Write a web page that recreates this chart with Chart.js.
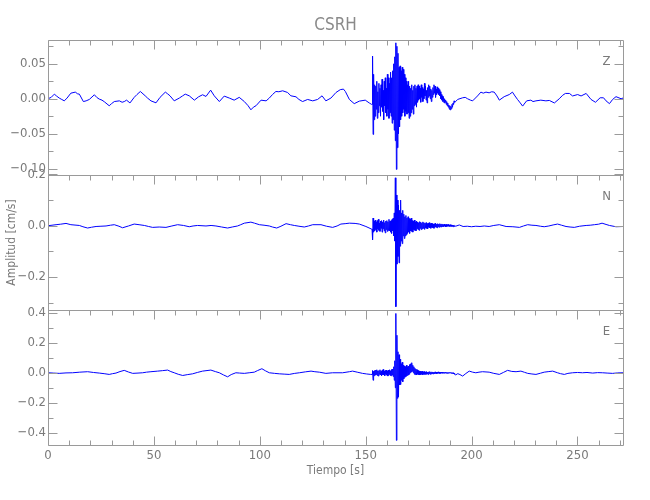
<!DOCTYPE html>
<html><head><meta charset="utf-8">
<script src="https://cdn.jsdelivr.net/npm/chart.js@4.4.1/dist/chart.umd.min.js"></script>
<style>
html,body{margin:0;padding:0;background:#fff;}
#wrap{position:relative;width:650px;height:500px;}
#wrap canvas{position:absolute;left:0;top:0;}
</style></head><body>
<div id="wrap">
<canvas id="cZ" width="650" height="500"></canvas>
<canvas id="cN" width="650" height="500"></canvas>
<canvas id="cE" width="650" height="500"></canvas>
</div>
<script>
// ---------------- DATA ----------------
const stationName = 'CSRH';
const componentLabels = ['Z', 'N', 'E'];
const xTitle = 'Tiempo [s]';
const yTitle = 'Amplitud [cm/s]';
const xMax = 271.5;
const xTicks = [0, 50, 100, 150, 200, 250];
const xMinorTicks = [10,20,30,40,60,70,80,90,110,120,130,140,160,170,180,190,210,220,230,240,260,270];

const zTicks = [0.05, 0.00, -0.05, -0.10];
const zTickLabels = ['0.05', '0.00', '\u22120.05', '\u22120.10'];
const zMinorTicks = [0.075, 0.025, -0.025, -0.075];
const nTicks = [0.2, 0.0, -0.2];
const nTickLabels = ['0.2', '0.0', '\u22120.2'];
const nMinorTicks = [0.1, -0.1, -0.3];
const eTicks = [0.4, 0.2, 0.0, -0.2, -0.4];
const eTickLabels = ['0.4', '0.2', '0.0', '\u22120.2', '\u22120.4'];
const eMinorTicks = [0.3, 0.1, -0.1, -0.3];

// strong-motion section: samples every burstStep seconds from burstStart
const burstStart = 153;
const burstStep = 0.25;

// ---- Z component ----
const zPreT = [0,1.5,3,4,5.3,6.5,7.7,9,10.8,12.9,14,14.8,16.7,18,19.5,21.9,23,24.2,25.5,26.6,28.9,30,31.3,33.7,35,36,37.1,38.7,40.7,42,43.6,45.9,47,48.6,51,52.9,55.4,56.5,57.6,59.6,62,63.5,64.8,66.7,69.1,71.1,73,74.6,76.8,78.5,80.9,83.2,85.6,87.9,90.3,92.7,94.5,95.8,97,98.2,100.6,103,104.5,106,107.6,109,110.8,113.1,114.7,117.1,118.5,120.2,122.6,125,127.3,129.4,131.2,133.6,136,138,139.5,140.4,142.3,144.6,147,149.8,151.7,152.75];
const zPreV = [0,0.002,0.0066,0.004,0.001,-0.001,-0.003,0.001,0.008,0.0095,0.007,0.0066,-0.004,-0.003,-0.001,0.0057,0.002,-0.0005,-0.002,-0.0043,-0.010,-0.007,-0.004,-0.003,-0.005,-0.004,-0.002,-0.006,0.002,0.006,0.0104,0.0042,0.001,-0.003,-0.0058,0.002,0.0095,0.007,0.0042,-0.003,0.001,0.004,0.0066,0.0042,-0.002,0.0028,0.0057,0.0033,0.0123,0.0042,-0.004,0.0038,0.001,-0.002,0.002,-0.004,-0.010,-0.0158,-0.012,-0.010,-0.002,-0.003,0.001,0.006,0.0104,0.010,0.0114,0.009,0.0042,0.0028,-0.001,-0.004,-0.001,-0.003,-0.001,0.0042,-0.003,0.001,0.009,0.013,0.0138,0.0104,-0.001,-0.007,-0.0034,-0.002,-0.006,-0.008];
const zBurst = [
 -0.008, 0.061, -0.051, 0.035,
 -0.030, 0.020, -0.025, 0.018,
 -0.015, 0.025, -0.028, 0.010,
 -0.020, 0.022, -0.010, 0.015,
 -0.025, 0.020, -0.012, 0.028,
 -0.018, 0.012, -0.030, 0.025,
 -0.010, 0.030, -0.020, 0.015,
 -0.025, 0.035, -0.015, 0.030,
 -0.028, 0.022, -0.020, 0.038,
 -0.025, 0.030, -0.035, 0.040,
 -0.030, 0.050, -0.045, 0.060,
 -0.060, 0.080, -0.101, 0.075,
 -0.070, 0.065, -0.050, 0.045,
 -0.040, 0.047, -0.030, 0.040,
 -0.025, 0.045, -0.020, 0.042,
 -0.015, 0.035, -0.025, 0.030,
 -0.018, 0.025, -0.022, 0.020,
 -0.020, 0.025, -0.028, 0.018,
 -0.025, 0.015, -0.020, 0.020,
 -0.015, 0.012, -0.022, 0.018,
 -0.010, 0.020, -0.008, 0.015,
 -0.012, 0.018, -0.005, 0.020,
 -0.002, 0.018, 0.000, 0.015,
 -0.005, 0.020, 0.002, 0.016,
 -0.004, 0.014, 0.000, 0.022,
 0.004, 0.018, -0.002, 0.012,
 -0.006, 0.016, 0.002, 0.020,
 0.004, 0.018, 0.000, 0.014,
 -0.004, 0.012, 0.002, 0.016,
 0.006, 0.020, 0.008, 0.018,
 0.002, 0.014, 0.006, 0.017,
 0.008, 0.015, 0.006, 0.013,
 0.004, 0.010, 0.000, 0.006,
 -0.002, 0.004, -0.004, 0.002,
 -0.006, 0.000, -0.005, -0.002,
 -0.008, -0.004, -0.010, -0.006,
 -0.012, -0.009, -0.015, -0.010,
 -0.016, -0.011, -0.014, -0.008,
 -0.012, -0.006, -0.008, -0.003,
 -0.005];
const zPostT = [192.5,193.4,195.8,197,198.1,199.5,200.5,202.8,204.4,205.5,206.8,208.3,209.5,210.7,212,213.1,215.4,217.8,219.3,220.5,221.7,223,224.1,226,228,229,230.4,232.7,235.1,236.7,239.1,241.4,243,244.3,246.2,247.7,250.1,251.7,254.1,256.4,258.5,260.7,262.3,263.5,265.1,266.6,268.2,270.6,271.5];
const zPostV = [-0.004,-0.001,0.0014,0.002,0,-0.002,-0.003,0.004,0.0095,0.008,0.0095,0.0085,0.010,0.0095,0.004,-0.002,0.003,0.006,0.0095,0.004,-0.001,-0.006,-0.0105,-0.003,-0.002,-0.004,-0.003,-0.002,-0.003,-0.0024,-0.006,0,0.005,0.0076,0.0076,0.004,0.006,0.004,0.0076,-0.001,-0.005,0.0014,0.0014,-0.003,-0.007,-0.001,0.003,0,0.001];

// ---- N component ----
const nPreT = [0,3.8,6,8.5,10.8,14.8,16.5,18.7,20.5,22.7,25,27.4,29.5,31.3,33.5,35.2,38,40.7,43,45.5,47.5,49.4,52.5,55.7,58.5,61.2,64,66.7,68.5,70.6,74.6,77,79.3,82,84.8,87,89.5,91,92.7,95.8,97.5,99.8,102,104.5,106,108,110,112.4,114.5,116.3,118.5,121,123,125,128.9,131.5,134.4,136.5,138.3,140.3,142.3,145,147,150.1,152.75];
const nPreV = [0,0.004,0.006,0.009,0.004,0.001,-0.004,-0.009,-0.006,-0.003,-0.002,-0.001,0.002,0.004,-0.002,-0.008,-0.001,0.0065,0.004,0.001,-0.003,-0.0065,-0.005,-0.0065,-0.001,0.004,0.001,-0.004,-0.001,0.001,-0.001,0.001,-0.001,-0.005,-0.009,-0.005,-0.001,0.004,0.010,0.014,0.010,0.004,0.002,-0.001,-0.005,-0.009,-0.002,0.008,0.004,0.001,-0.002,-0.005,-0.001,0.004,0.004,-0.002,-0.0065,-0.001,0.0065,0.008,0.010,0.009,0.0065,-0.003,-0.013];
const nBurst = [
 -0.013, -0.055, 0.030, -0.025,
 0.018, -0.020, 0.022, -0.015,
 0.015, -0.025, 0.020, -0.012,
 0.025, -0.018, 0.010, -0.022,
 0.018, -0.010, 0.020, -0.025,
 0.015, -0.012, 0.022, -0.020,
 0.012, -0.028, 0.018, -0.015,
 0.020, -0.022, 0.015, -0.018,
 0.025, -0.020, 0.018, -0.025,
 0.020, -0.030, 0.025, -0.020,
 0.030, -0.040, 0.050, -0.060,
 0.187, -0.316, 0.120, -0.150,
 0.100, -0.120, 0.080, -0.145,
 0.060, -0.080, 0.100, -0.060,
 0.050, -0.070, 0.060, -0.040,
 0.045, -0.050, 0.035, -0.040,
 0.040, -0.035, 0.030, -0.030,
 0.035, -0.025, 0.028, -0.030,
 0.025, -0.020, 0.030, -0.022,
 0.020, -0.025, 0.018, -0.015,
 0.022, -0.018, 0.015, -0.020,
 0.018, -0.012, 0.015, -0.015,
 0.012, -0.018, 0.016, -0.010,
 0.014, -0.015, 0.010, -0.012,
 0.015, -0.010, 0.012, -0.014,
 0.010, -0.008, 0.012, -0.010,
 0.008, -0.012, 0.010, -0.006,
 0.012, -0.008, 0.008, -0.010,
 0.010, -0.006, 0.008, -0.008,
 0.006, -0.010, 0.008, -0.005,
 0.010, -0.006, 0.006, -0.008,
 0.008, -0.004, 0.006, -0.006,
 0.008, -0.004, 0.006, -0.005,
 0.007, -0.003, 0.005, -0.004,
 0.006, -0.002, 0.004, -0.004,
 0.005, -0.003, 0.004, -0.002,
 0.005, -0.002, 0.003, -0.003,
 0.004, -0.002, 0.003, -0.003,
 0.002, -0.004, 0.002, -0.003,
 0.001];
const nPostT = [192.5,194.2,196,198,200,202,204,206,208.3,210.5,213.1,216.3,219.5,222.6,224.5,226.5,228.5,230.4,232.5,234.3,236.5,238.5,240.6,242.5,244.6,246.5,248.5,251,254.1,256,258,260,261.6,263.5,265.1,268.2,271.5];
const nPostV = [-0.002,0.003,-0.003,-0.002,-0.004,-0.002,-0.003,-0.001,-0.003,0.001,0.004,-0.003,-0.004,-0.0065,-0.001,0.004,0.002,0.001,-0.002,-0.004,-0.001,0.003,0.0065,0.002,-0.003,-0.005,-0.0065,-0.002,0.001,0.002,0.004,0.006,0.010,0.005,0.001,-0.004,-0.003];

// ---- E component ----
const ePreT = [0,2.5,5.3,8.5,11.6,15,18.7,21.5,24.2,26.5,28.9,30.5,32.1,34,36,38,40,42.5,44.7,46.5,48.6,51.8,54,56.5,58,59.6,61.5,63.6,66,68.3,70.5,73,76.9,79,80.9,82.8,84.8,86.5,88.7,90.5,92.7,95,97.4,99,101,102.8,104.5,107,109.2,111.5,113.9,116.5,118.7,121.5,124.2,126,128.1,131.2,134.4,139.1,142.3,143.8,146,148.5,150.5,152.4];
const ePreV = [0,-0.002,-0.004,-0.001,0,0.004,0.007,0.002,-0.002,-0.006,-0.011,-0.006,-0.002,0.008,0.016,0.005,-0.004,-0.002,0,0.004,0.007,0.011,0.014,0.018,0.008,0,-0.010,-0.018,-0.012,-0.007,0.002,0.011,0.018,0.008,0,-0.014,-0.027,-0.012,0,-0.002,-0.004,0,0.004,0.015,0.027,0.012,0,-0.004,-0.007,-0.009,-0.011,-0.004,0,0.006,0.011,0.007,0.004,-0.004,0,0,0.007,0.011,0.004,-0.004,-0.008,-0.011];
const eBurst = [
 -0.011, 0.015, -0.050, 0.010,
 -0.020, 0.015, -0.015, 0.018,
 -0.012, 0.020, -0.018, 0.012,
 -0.022, 0.015, -0.010, 0.020,
 -0.015, 0.010, -0.020, 0.016,
 -0.012, 0.022, -0.015, 0.012,
 -0.020, 0.015, -0.010, 0.018,
 -0.016, 0.012, -0.022, 0.018,
 -0.012, 0.020, -0.018, 0.014,
 -0.020, 0.022, -0.015, 0.025,
 -0.025, 0.040, -0.050, 0.080,
 -0.100, 0.395, -0.450, 0.250,
 -0.170, 0.140, -0.160, 0.120,
 -0.080, 0.090, -0.078, 0.060,
 -0.050, 0.070, -0.060, 0.050,
 -0.040, 0.045, -0.030, 0.040,
 -0.025, 0.050, -0.020, 0.040,
 -0.015, 0.045, -0.010, 0.055,
 0.000, 0.060, 0.005, 0.067,
 0.010, 0.050, 0.000, 0.040,
 -0.010, 0.030, -0.012, 0.025,
 -0.015, 0.020, -0.010, 0.015,
 -0.012, 0.012, -0.015, 0.010,
 -0.012, 0.008, -0.010, 0.010,
 -0.014, 0.006, -0.008, 0.008,
 -0.012, 0.005, -0.010, 0.008,
 -0.008, 0.004, -0.012, 0.006,
 -0.006, 0.008, -0.010, 0.004,
 -0.008, 0.006, -0.006, 0.005,
 -0.008, 0.004, -0.006, 0.006,
 -0.004, 0.005, -0.006, 0.004,
 -0.004, 0.006, -0.003, 0.004,
 -0.005, 0.003, -0.004, 0.005,
 -0.002, 0.004, -0.004, 0.002,
 -0.003, 0.003, -0.002, 0.004,
 -0.003, 0.002, -0.004, 0.002,
 -0.003, 0.002, -0.002, 0.003,
 -0.002, 0.001, -0.004, 0.002,
 -0.005, 0.000, -0.008, -0.004,
 -0.010];
const ePostT = [192.5,193.5,194.5,195.8,197.3,198.9,200.5,202,203.5,205.2,208.3,210.5,213.1,215,217,219,221,223.3,225,226.5,228.5,230.4,232.5,234.3,236.5,238.3,240.6,242,243.8,245.5,247.7,250,252.4,254.5,257.2,259.5,261.9,264,266.6,269,271.5];
const ePostV = [-0.014,-0.006,-0.012,-0.022,-0.005,0.011,0.004,0,0.004,0.007,0.004,-0.004,-0.011,0.002,0.016,0.009,0.007,0.011,0.003,-0.004,-0.008,-0.011,-0.003,0.004,0.008,0.011,0,-0.006,-0.011,-0.004,0,0.002,0,0.002,-0.002,0.001,0,-0.002,-0.004,-0.001,0];

// ---------------- STYLE ----------------
const FONT = "'Liberation Sans Narrow', 'DejaVu Sans Condensed', 'Liberation Sans', sans-serif";
const textColor = '#7a7a7a';
const axisColor = '#9a9a9a';
const traceColor = '#0000ff';
Chart.defaults.font.family = FONT;
Chart.defaults.color = textColor;

function buildSeries(preT, preV, burst, postT, postV) {
  const pts = [];
  preT.forEach((t, i) => pts.push({x: t, y: preV[i]}));
  burst.forEach((v, i) => pts.push({x: burstStart + i * burstStep, y: v}));
  postT.forEach((t, i) => pts.push({x: t, y: postV[i]}));
  return pts;
}

const framePlugin = {
  id: 'seisFrame',
  afterDatasetsDraw(chart, args, o) {
    const {ctx, chartArea: a, scales} = chart;
    const xs = scales.x, ys = scales.y;
    const L = a.left + 0.5, R = a.right + 0.5, T = a.top + 0.5, B = a.bottom + 0.5;
    ctx.save();
    ctx.strokeStyle = axisColor;
    ctx.lineWidth = 1;
    ctx.beginPath();
    ctx.rect(L, T, R - L, B - T);
    const yt = (vals, len) => vals.forEach(v => {
      const p = Math.round(ys.getPixelForValue(v)) + 0.5;
      ctx.moveTo(L, p); ctx.lineTo(L + len, p);
      ctx.moveTo(R, p); ctx.lineTo(R - len, p);
    });
    yt(o.major, 9); yt(o.minor, 5);
    const xt = (vals, len) => vals.forEach(v => {
      const p = Math.round(xs.getPixelForValue(v)) + 0.5;
      ctx.moveTo(p, T); ctx.lineTo(p, T + len);
      if (o.bottomTicks) { ctx.moveTo(p, B); ctx.lineTo(p, B - len); }
    });
    xt(xTicks, 9); xt(xMinorTicks, 5);
    ctx.stroke();
    ctx.fillStyle = textColor;
    ctx.font = '13px ' + FONT;
    ctx.textAlign = 'center';
    ctx.textBaseline = 'middle';
    ctx.fillText(o.label, a.right - 16.5, a.top + 22);
    ctx.restore();
  }
};

function makePanel(id, cfg) {
  return new Chart(document.getElementById(id), {
    type: 'line',
    data: { datasets: [{ data: cfg.points, parsing: false, borderColor: traceColor, borderWidth: 1,
      pointRadius: 0, tension: 0, fill: false }] },
    plugins: [framePlugin],
    options: {
      responsive: false, animation: false, events: [],
      layout: { padding: cfg.padding },
      plugins: {
        legend: { display: false }, tooltip: { enabled: false },
        title: cfg.title ? { display: true, text: cfg.title, fullSize: false, color: '#8a8a8a',
          font: { size: 17, weight: 'normal' }, padding: { top: 15, bottom: 4.6 } } : { display: false },
        seisFrame: { major: cfg.ticks, minor: cfg.minor, label: cfg.label, bottomTicks: !!cfg.bottom }
      },
      scales: {
        x: {
          type: 'linear', min: 0, max: xMax, display: !!cfg.bottom,
          grid: { display: false, drawTicks: false }, border: { display: false },
          afterBuildTicks: s => { s.ticks = xTicks.map(v => ({ value: v })); },
          afterFit: s => { s.height = cfg.bottom ? 55 : 0; },
          ticks: { padding: 3, maxRotation: 0, autoSkip: false, font: { size: 13 }, callback: v => String(v) },
          title: { display: true, text: xTitle, font: { size: 12 }, padding: { top: 0, bottom: 22 } }
        },
        y: {
          type: 'linear', min: cfg.yMin, max: cfg.yMax,
          grid: { display: false, drawTicks: false }, border: { display: false },
          afterBuildTicks: s => { s.ticks = cfg.ticks.map(v => ({ value: v })); },
          afterFit: s => { s.width = 48; },
          ticks: { padding: 2, font: { size: 13 }, autoSkip: false,
            callback: v => cfg.labels[cfg.ticks.indexOf(v)] },
          title: cfg.yTitle ? { display: true, text: cfg.yTitle, font: { size: 12 }, padding: { top: 5, bottom: 0 } } : { display: false }
        }
      }
    }
  });
}

makePanel('cZ', { points: buildSeries(zPreT, zPreV, zBurst, zPostT, zPostV), yMin: -0.109, yMax: 0.084,
  ticks: zTicks, labels: zTickLabels, minor: zMinorTicks, label: componentLabels[0], title: stationName,
  padding: { top: 0, bottom: 325, left: 0, right: 27 } });
makePanel('cN', { points: buildSeries(nPreT, nPreV, nBurst, nPostT, nPostV), yMin: -0.329, yMax: 0.198,
  ticks: nTicks, labels: nTickLabels, minor: nMinorTicks, label: componentLabels[1], yTitle: yTitle,
  padding: { top: 175, bottom: 190, left: 0, right: 27 } });
makePanel('cE', { points: buildSeries(ePreT, ePreV, eBurst, ePostT, ePostV), yMin: -0.481, yMax: 0.418,
  ticks: eTicks, labels: eTickLabels, minor: eMinorTicks, label: componentLabels[2], bottom: true,
  padding: { top: 310, bottom: 0, left: 0, right: 27 } });
</script>
</body></html>
